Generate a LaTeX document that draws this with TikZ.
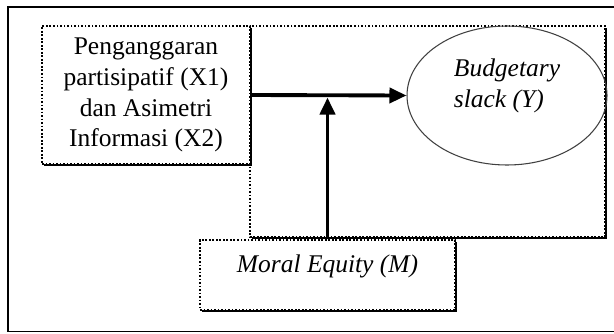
\documentclass[tikz,border=0pt]{standalone}
\usepackage{fontspec}
\setmainfont{Liberation Serif}
\usetikzlibrary{arrows.meta,shapes.geometric,shadows}

\tikzset{
  dotbox/.style={draw,line width=1pt,dash pattern=on 1pt off 1pt,fill=white,
    drop shadow={shadow xshift=0.045cm,shadow yshift=-0.045cm,fill=black,opacity=1}},
  arr/.style={line width=2.2pt,-{Triangle[length=0.34cm,width=0.3cm]}},
  txt/.style={font=\fontsize{14.5}{17.5}\selectfont},
  itxt/.style={font=\fontsize{14.5}{17.5}\selectfont\itshape}
}

\begin{document}
\begin{tikzpicture}
\useasboundingbox (0,0) rectangle (12.28,6.66);
% --- outer frame ---
\draw[line width=1pt] (12.40,6.52) -- (0.16,6.52) -- (0.16,0.03) -- (12.40,0.03);
% --- dotted frame around the model ---
\draw[dotbox] (5.00,6.14) rectangle (12.10,1.92);
% --- variables ---
\node[dotbox,txt,minimum width=4.16cm,minimum height=2.76cm,inner sep=0,align=center] (xbox) at (2.92,4.76)
  {Penganggaran\\partisipatif (X1)\\dan Asimetri\\Informasi (X2)};
\node[ellipse,draw=black!75,line width=0.6pt,itxt,minimum width=4cm,minimum height=2.78cm,inner sep=0,
  align=left,text depth=0.5cm] (slack) at (10.14,4.75) {Budgetary\\slack (Y)};
\node[dotbox,itxt,minimum width=5.1cm,minimum height=1.4cm,inner ysep=0.2cm,
  text height=0.44cm,text depth=0.56cm] (moral) at (6.55,1.16) {Moral Equity (M)};
% --- arrows ---
\draw[arr] (xbox.east) -- (slack.west);
\draw[arr,shorten >=0.05cm] (moral.north) -- (moral.north |- xbox.east);
\end{tikzpicture}
\end{document}
